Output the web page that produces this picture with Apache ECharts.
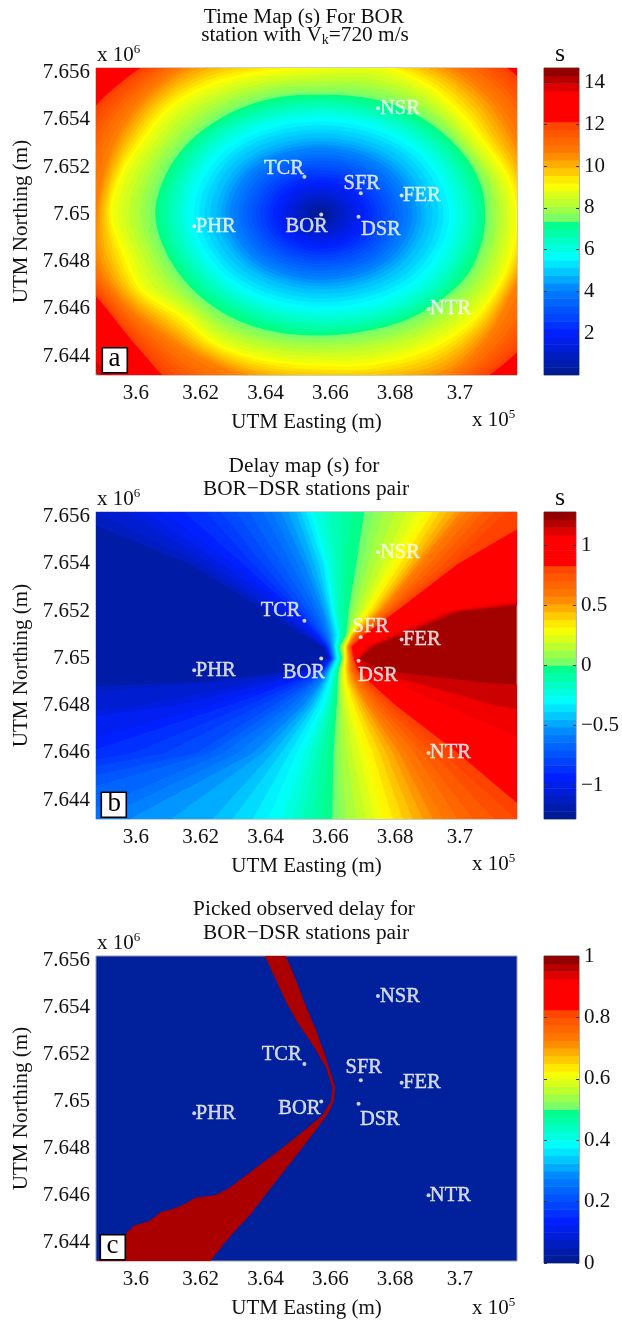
<!DOCTYPE html>
<html>
<head>
<meta charset="utf-8">
<style>html,body{margin:0;padding:0;background:#fff}#c{width:622px;height:1320px;filter:blur(0.45px)}</style>
<script src="https://cdn.jsdelivr.net/npm/echarts@6/dist/echarts.min.js"></script>
</head>
<body>
<div id="c"></div>
<script>
// ---------- axes (easting in 1e5 m, northing in 1e6 m) ----------
const eastMin = 3.5877, eastMax = 3.7176, northMin = 7.6432, northMax = 7.6562;
const eastTicks = [3.6, 3.62, 3.64, 3.66, 3.68, 3.7];
const northTicks = [7.644, 7.646, 7.648, 7.65, 7.652, 7.654, 7.656];

// ---------- stations ----------
const stationNames = ['NSR', 'TCR', 'SFR', 'FER', 'PHR', 'BOR', 'DSR', 'NTR'];
const stationEast = [3.6747, 3.652, 3.6694, 3.682, 3.618, 3.6572, 3.6687, 3.6903];
const stationNorth = [7.6545, 7.6516, 7.6509, 7.6508, 7.6495, 7.65, 7.6499, 7.646];

// ---------- colour bars ----------
const barRangeA = [0, 14.7], barTicksA = [2, 4, 6, 8, 10, 12, 14];
const barRangeB = [-1.28, 1.28], barTicksB = [-1, -0.5, 0, 0.5, 1];
const barRangeC = [0, 1], barTicksC = [0, 0.2, 0.4, 0.6, 0.8, 1];
const cmapPos = [0, 0.137, 0.277, 0.384, 0.5, 0.505, 0.56, 0.62, 0.723, 0.824, 0.827, 0.915, 1];
const cmapCol = ['#001a8c', '#0020ff', '#0080ff', '#00ffff', '#00ff80', '#70ff70', '#b8ff30', '#ffff00', '#ff8000', '#ff4000', '#ff0000', '#ff0000', '#800000'];

// ---------- panel a: travel-time contours, km from the source along equal bearings ----------
const timeCentreEast = 3.6568, timeCentreNorth = 7.65;
const timeLevels = [14.2, 13.4, 12.2, 12.0, 11.8, 11.6, 11.4, 11.2, 11.0, 10.8, 10.6, 10.4, 10.2, 10.0, 9.8, 9.6, 9.4, 9.2, 9.0, 8.8, 8.6, 8.4, 8.2, 8.0, 7.8, 7.6, 7.4,
  7.2, 7.0, 6.8, 6.6, 6.4, 6.2, 6.0, 5.8, 5.6, 5.4, 5.2, 5.0, 4.8, 4.6, 4.4, 4.2, 4.0, 3.8, 3.6, 3.4, 3.2, 3.0, 2.8, 2.6, 2.4, 2.2, 2.0, 1.8, 1.6, 1.4, 1.2, 1.0, 0.8, 0.6, 0.4, 0.2];
const timeRadii = [
  [12,12,12,12,12,12,12,12,12,12,12,12,12,12,12,9.62,12,12,12,12,12,12,12,12],
  [10,10,10,10,10,10,10,10,10,10,10,10,10,10,9.3,9.35,9.8,10,10,10,10,10,10,10],
  [8.20,8.20,8.30,8.45,8.60,8.60,8.50,8.50,8.40,8.30,8.30,8.20,8.20,8.00,7.70,7.95,8.60,8.80,8.80,8.80,8.70,8.45,8.30,8.20],
  [8.02,8.02,8.12,8.30,8.45,8.43,8.33,8.34,8.29,8.18,8.15,8.04,8.04,7.90,7.63,7.83,8.42,8.62,8.63,8.65,8.59,8.31,8.12,8.02],
  [7.83,7.83,7.94,8.14,8.30,8.25,8.15,8.18,8.18,8.06,8.00,7.88,7.88,7.79,7.55,7.71,8.23,8.43,8.45,8.50,8.48,8.17,7.93,7.83],
  [7.64,7.64,7.76,7.99,8.15,8.08,7.98,8.02,8.07,7.95,7.85,7.72,7.72,7.69,7.48,7.60,8.04,8.24,8.28,8.35,8.37,8.03,7.74,7.64],
  [7.45,7.45,7.58,7.83,8.00,7.90,7.80,7.85,7.95,7.83,7.70,7.55,7.55,7.58,7.40,7.48,7.85,8.05,8.10,8.20,8.25,7.88,7.55,7.45],
  [7.27,7.27,7.40,7.67,7.85,7.73,7.63,7.69,7.84,7.71,7.55,7.39,7.39,7.47,7.33,7.36,7.67,7.87,7.93,8.05,8.14,7.74,7.37,7.27],
  [7.08,7.08,7.21,7.51,7.70,7.55,7.45,7.52,7.72,7.59,7.40,7.23,7.23,7.36,7.25,7.24,7.48,7.68,7.75,7.90,8.03,7.59,7.18,7.08],
  [6.89,6.89,7.03,7.35,7.55,7.38,7.28,7.36,7.61,7.47,7.25,7.07,7.07,7.25,7.17,7.12,7.29,7.49,7.58,7.75,7.91,7.45,6.99,6.89],
  [6.70,6.70,6.85,7.20,7.40,7.20,7.10,7.20,7.50,7.35,7.10,6.90,6.90,7.15,7.10,7.00,7.10,7.30,7.40,7.60,7.80,7.30,6.80,6.70],
  [6.62,6.60,6.71,7.05,7.27,7.12,6.99,7.07,7.36,7.23,7.00,6.83,6.84,7.03,7.00,6.87,7.00,7.17,7.26,7.46,7.64,7.20,6.73,6.62],
  [6.53,6.51,6.57,6.90,7.14,7.03,6.88,6.95,7.22,7.12,6.89,6.76,6.78,6.91,6.90,6.75,6.90,7.05,7.12,7.31,7.48,7.09,6.66,6.55],
  [6.44,6.41,6.42,6.75,7.01,6.94,6.76,6.82,7.07,7.00,6.78,6.68,6.71,6.80,6.80,6.62,6.80,6.93,6.98,7.17,7.31,6.98,6.60,6.47],
  [6.36,6.31,6.28,6.60,6.88,6.85,6.65,6.70,6.93,6.89,6.68,6.61,6.65,6.68,6.70,6.50,6.70,6.81,6.85,7.03,7.15,6.88,6.53,6.39],
  [6.27,6.22,6.17,6.45,6.75,6.76,6.53,6.57,6.78,6.77,6.57,6.54,6.58,6.56,6.60,6.37,6.60,6.68,6.71,6.88,6.99,6.77,6.46,6.31],
  [6.19,6.13,6.05,6.30,6.61,6.68,6.42,6.45,6.64,6.65,6.46,6.47,6.52,6.44,6.50,6.25,6.50,6.56,6.57,6.74,6.83,6.66,6.39,6.24],
  [6.10,6.04,5.95,6.16,6.48,6.59,6.31,6.32,6.50,6.53,6.35,6.39,6.46,6.32,6.40,6.12,6.40,6.44,6.43,6.59,6.66,6.55,6.32,6.16],
  [6.02,5.95,5.85,6.02,6.35,6.50,6.20,6.20,6.36,6.42,6.25,6.32,6.40,6.20,6.30,6.00,6.30,6.32,6.30,6.45,6.50,6.45,6.25,6.08],
  [5.90,5.84,5.72,5.90,6.20,6.32,6.06,6.07,6.20,6.25,6.10,6.16,6.24,6.05,6.13,5.88,6.16,6.18,6.15,6.28,6.33,6.28,6.14,5.96],
  [5.79,5.72,5.60,5.78,6.06,6.14,5.92,5.94,6.05,6.09,5.95,6.00,6.07,5.90,5.97,5.77,6.03,6.03,6.01,6.12,6.16,6.12,6.02,5.85],
  [5.68,5.62,5.50,5.68,5.91,5.96,5.76,5.80,5.88,5.90,5.79,5.83,5.90,5.74,5.78,5.65,5.87,5.87,5.85,5.92,5.97,5.95,5.88,5.72],
  [5.56,5.52,5.42,5.57,5.76,5.78,5.62,5.66,5.72,5.72,5.64,5.67,5.72,5.58,5.60,5.53,5.72,5.72,5.70,5.74,5.81,5.78,5.74,5.60],
  [5.45,5.42,5.34,5.46,5.60,5.60,5.47,5.52,5.56,5.54,5.48,5.50,5.54,5.42,5.44,5.42,5.58,5.57,5.54,5.58,5.65,5.62,5.60,5.48],
  [5.33,5.32,5.26,5.35,5.45,5.44,5.33,5.38,5.40,5.37,5.33,5.34,5.38,5.28,5.28,5.30,5.44,5.43,5.40,5.42,5.49,5.46,5.46,5.36],
  [5.21,5.22,5.19,5.23,5.30,5.27,5.19,5.25,5.25,5.22,5.19,5.19,5.22,5.15,5.15,5.19,5.29,5.29,5.26,5.27,5.34,5.33,5.34,5.25],
  [5.10,5.12,5.11,5.13,5.18,5.14,5.07,5.13,5.12,5.08,5.06,5.05,5.08,5.02,5.02,5.08,5.15,5.16,5.13,5.13,5.20,5.20,5.22,5.14],
  [5.01,5.02,4.97,4.99,4.95,4.93,5.02,5.11],
  [4.90,4.90,4.85,4.88,4.83,4.80,4.90,5.00],
  [4.79,4.79,4.74,4.77,4.70,4.67,4.77,4.90],
  [4.67,4.67,4.62,4.65,4.57,4.54,4.64,4.79],
  [4.54,4.54,4.50,4.52,4.44,4.41,4.50,4.65],
  [4.42,4.42,4.38,4.40,4.32,4.29,4.37,4.52],
  [4.28,4.28,4.24,4.26,4.18,4.15,4.21,4.36],
  [4.13,4.13,4.09,4.11,4.03,4.01,4.05,4.19],
  [3.99,3.99,3.95,3.97,3.89,3.87,3.90,4.03],
  [3.82,3.82,3.78,3.80,3.72,3.70,3.72,3.84],
  [3.65,3.65,3.61,3.63,3.56,3.53,3.55,3.66],
  [3.47,3.47,3.43,3.45,3.38,3.35,3.37,3.47],
  [3.28,3.28,3.24,3.26,3.19,3.16,3.18,3.27],
  [3.14,3.14,3.10,3.12,3.05,3.03,3.04,3.13],
  [3.00,3.00,2.96,2.98,2.92,2.90,2.91,2.99],
  [2.86,2.86,2.83,2.85,2.78,2.76,2.77,2.85],
  [2.72,2.72,2.69,2.71,2.65,2.63,2.64,2.71],
  [2.58,2.58,2.55,2.57,2.51,2.49,2.50,2.57],
  [2.44,2.44,2.41,2.43,2.38,2.36,2.37,2.44],
  [2.30,2.30,2.28,2.29,2.24,2.22,2.23,2.30],
  [2.17,2.17,2.15,2.16,2.11,2.09,2.10,2.17],
  [2.03,2.03,2.01,2.02,1.98,1.96,1.97,2.03],
  [1.90,1.90,1.88,1.89,1.85,1.83,1.84,1.90],
  [1.76,1.76,1.74,1.75,1.71,1.70,1.71,1.76],
  [1.63,1.63,1.61,1.62,1.58,1.57,1.58,1.63],
  [1.49,1.49,1.47,1.48,1.45,1.44,1.45,1.49],
  [1.36,1.36,1.34,1.35,1.32,1.31,1.32,1.36],
  [1.22,1.22,1.20,1.21,1.18,1.18,1.19,1.22],
  [1.09,1.09,1.07,1.08,1.05,1.05,1.06,1.09],
  [0.95,0.95,0.93,0.94,0.92,0.92,0.93,0.95],
  [0.82,0.82,0.80,0.81,0.79,0.79,0.80,0.82],
  [0.68,0.68,0.66,0.67,0.66,0.66,0.66,0.68],
  [0.55,0.55,0.53,0.54,0.53,0.53,0.53,0.55],
  [0.41,0.41,0.40,0.40,0.40,0.40,0.40,0.41],
  [0.28,0.28,0.27,0.27,0.27,0.27,0.27,0.28],
  [0.14,0.14,0.14,0.14,0.14,0.14,0.14,0.14]
];

// ---------- panel b: easting of each delay contour at fixed northings ----------
const delayNorthings = [7.6562, 7.654, 7.652, 7.651, 7.6505, 7.65, 7.6495, 7.649, 7.648, 7.646, 7.6432];
const delayLevels = [1.18, 1.12, 1.05, 0.84, 0.8, 0.75, 0.7, 0.65, 0.6, 0.55, 0.5, 0.45, 0.4, 0.35, 0.3, 0.25, 0.2, 0.15, 0.1, 0.05, 0, -0.05, -0.1, -0.15, -0.2, -0.25, -0.3, -0.35, -0.4, -0.45, -0.5, -0.55, -0.6, -0.65, -0.7, -0.75, -0.8, -0.85, -0.9, -0.95, -1.0, -1.05, -1.1, -1.15];
const delayEastings = [
  [3.9479,3.8450,3.6999,3.6824,3.6731,3.6690,3.6752,3.7055,3.8141,3.9993,4.2051],
  [3.8964,3.8141,3.6978,3.6803,3.6721,3.6685,3.6700,3.6855,3.7112,3.7935,4.0000],
  [3.8450,3.7832,3.6957,3.6783,3.6710,3.6680,3.6690,3.6793,3.6957,3.7287,3.8964],
  [3.7266,3.6993,3.6803,3.6705,3.6666,3.6672,3.6685,3.6721,3.6803,3.6993,3.7235],
  [3.7143,3.6973,3.6793,3.6695,3.6663,3.6669,3.6680,3.6710,3.6783,3.6947,3.7173],
  [3.7107,3.6950,3.6785,3.6690,3.6661,3.6667,3.6675,3.6702,3.6767,3.6916,3.7106],
  [3.7071,3.6927,3.6777,3.6685,3.6659,3.6665,3.6671,3.6695,3.6752,3.6885,3.7040],
  [3.7045,3.6906,3.6770,3.6681,3.6657,3.6663,3.6667,3.6687,3.6739,3.6860,3.6993],
  [3.7019,3.6885,3.6762,3.6678,3.6656,3.6661,3.6664,3.6680,3.6726,3.6834,3.6947],
  [3.7001,3.6872,3.6754,3.6674,3.6654,3.6658,3.6660,3.6673,3.6715,3.6813,3.6916],
  [3.6983,3.6860,3.6747,3.6671,3.6652,3.6656,3.6656,3.6667,3.6705,3.6793,3.6885],
  [3.6960,3.6847,3.6739,3.6668,3.6650,3.6653,3.6652,3.6661,3.6695,3.6772,3.6854],
  [3.6937,3.6834,3.6731,3.6666,3.6649,3.6651,3.6649,3.6655,3.6685,3.6752,3.6824],
  [3.6916,3.6816,3.6722,3.6663,3.6647,3.6648,3.6646,3.6650,3.6674,3.6731,3.6793],
  [3.6896,3.6798,3.6713,3.6661,3.6645,3.6646,3.6643,3.6645,3.6664,3.6710,3.6762],
  [3.6865,3.6780,3.6704,3.6659,3.6643,3.6644,3.6639,3.6640,3.6654,3.6689,3.6736],
  [3.6834,3.6762,3.6695,3.6657,3.6641,3.6643,3.6636,3.6636,3.6644,3.6669,3.6710],
  [3.6798,3.6739,3.6684,3.6655,3.6638,3.6641,3.6633,3.6633,3.6637,3.6651,3.6680],
  [3.6762,3.6716,3.6674,3.6654,3.6635,3.6639,3.6631,3.6630,3.6631,3.6633,3.6649],
  [3.6733,3.6698,3.6665,3.6651,3.6632,3.6637,3.6628,3.6626,3.6625,3.6621,3.6627],
  [3.6705,3.6680,3.6656,3.6649,3.6629,3.6636,3.6626,3.6623,3.6620,3.6610,3.6606],
  [3.6669,3.6649,3.6644,3.6642,3.6626,3.6633,3.6622,3.6618,3.6610,3.6592,3.6577],
  [3.6633,3.6633,3.6633,3.6637,3.6624,3.6631,3.6619,3.6614,3.6603,3.6574,3.6546],
  [3.6597,3.6618,3.6623,3.6633,3.6622,3.6629,3.6616,3.6610,3.6597,3.6556,3.6515],
  [3.6574,3.6605,3.6618,3.6630,3.6620,3.6627,3.6613,3.6606,3.6589,3.6538,3.6484],
  [3.6551,3.6592,3.6613,3.6628,3.6618,3.6625,3.6610,3.6602,3.6582,3.6520,3.6453],
  [3.6538,3.6584,3.6607,3.6623,3.6616,3.6622,3.6606,3.6597,3.6571,3.6497,3.6407],
  [3.6525,3.6577,3.6602,3.6618,3.6614,3.6620,3.6602,3.6592,3.6561,3.6474,3.6361],
  [3.6509,3.6564,3.6597,3.6613,3.6612,3.6617,3.6600,3.6587,3.6551,3.6448,3.6299],
  [3.6494,3.6551,3.6592,3.6608,3.6610,3.6615,3.6597,3.6582,3.6541,3.6422,3.6237],
  [3.6471,3.6535,3.6584,3.6602,3.6607,3.6613,3.6594,3.6577,3.6528,3.6391,3.6108],
  [3.6448,3.6520,3.6577,3.6597,3.6604,3.6611,3.6592,3.6572,3.6515,3.6361,3.5980],
  [3.6420,3.6499,3.6566,3.6592,3.6602,3.6609,3.6589,3.6564,3.6494,3.6314,3.5887],
  [3.6392,3.6479,3.6556,3.6587,3.6600,3.6608,3.6587,3.6556,3.6474,3.6268,3.5795],
  [3.6350,3.6450,3.6543,3.6582,3.6598,3.6607,3.6584,3.6546,3.6448,3.6227,3.5527],
  [3.6309,3.6422,3.6530,3.6577,3.6597,3.6606,3.6582,3.6536,3.6422,3.6186,3.5260],
  [3.6263,3.6391,3.6517,3.6571,3.6594,3.6604,3.6579,3.6520,3.6381,3.6088,3.5054],
  [3.6217,3.6361,3.6505,3.6566,3.6592,3.6603,3.6577,3.6505,3.6340,3.5990,3.4848],
  [3.6150,3.6330,3.6492,3.6561,3.6589,3.6601,3.6572,3.6484,3.6283,3.5846,3.3819],
  [3.6083,3.6299,3.6479,3.6556,3.6587,3.6600,3.6568,3.6464,3.6227,3.5702,3.2790],
  [3.6026,3.6265,3.6458,3.6546,3.6584,3.6598,3.6557,3.6417,3.6119,3.5017,3.1761],
  [3.5970,3.6232,3.6438,3.6536,3.6582,3.6597,3.6546,3.6371,3.6011,3.4333,3.0732],
  [3.5872,3.6198,3.6420,3.6525,3.6579,3.6594,3.6530,3.6278,3.5172,3.3047,3.0217],
  [3.5774,3.6165,3.6402,3.6515,3.6577,3.6592,3.6515,3.6186,3.4333,3.1761,2.9703]
];

// ---------- panel c: outline of the picked delay region ----------
const pickedEast = [3.6398,3.6428,3.6465,3.6502,3.6551,3.6588,3.6606,3.6602,3.6575,3.6514,3.6441,3.6355,3.6287,3.6245,3.6183,3.6147,3.6110,3.6079,3.6042,3.5993,3.5951,3.5914,3.5878,3.6230,3.6294,3.6355,3.6416,3.6490,3.6551,3.6594,3.6610,3.6615,3.6588,3.6557,3.6526,3.6496,3.6463];
const pickedNorth = [7.6562,7.6553,7.6542,7.6533,7.6523,7.6514,7.6506,7.65,7.6494,7.6487,7.6479,7.6470,7.6463,7.6460,7.6459,7.6456,7.6454,7.6453,7.6449,7.6447,7.6441,7.6435,7.6432,7.6432,7.6443,7.6452,7.6463,7.6476,7.6487,7.6495,7.65,7.6506,7.6518,7.6530,7.6540,7.6551,7.6562];

// ---------- layout and text ----------
const panelTops = [68, 512, 956];
const panelHeight = 307, mapLeft = 96, mapWidth = 421, barLeft = 544, barWidth = 35;
const serif = 'Liberation Serif';
const labelOffsets = [
  [[22,0],[-20.4,-7.7],[1,-10],[20.2,0],[21.6,0],[-14.7,12.4],[22.3,13],[21.8,0]],
  [[22,0],[-23.8,-10.4],[10,-10.6],[20.2,0],[21.6,0],[-17.4,14],[19.3,15],[21.8,0]],
  [[22,0.7],[-22.7,-9.7],[3,-12.3],[20.2,0.4],[21.6,0],[-21.8,6.7],[21.3,16],[21.8,0]]
];
const titleLines = [
  ['Time Map (s) For BOR', 304, 17], ['station with V{sub|k}=720 m/s', 305, 35],
  ['Delay map (s) for', 304, 466], ['BOR\u2212DSR stations pair', 306, 489],
  ['Picked observed delay for', 304, 909], ['BOR\u2212DSR stations pair', 306, 933]
];
const panelLetters = ['a', 'b', 'c'];
const letterBoxes = [[101.5, 347], [100.5, 791.5], [99.5, 1234]];

function hex(c){return [1,3,5].map(i=>parseInt(c.substr(i,2),16));}
function cmap(n){
  n=Math.max(0,Math.min(1,n));
  for(let i=1;i<cmapPos.length;i++){
    if(n<=cmapPos[i]){
      const t=(n-cmapPos[i-1])/(cmapPos[i]-cmapPos[i-1]),a=hex(cmapCol[i-1]),b=hex(cmapCol[i]);
      return 'rgb('+a.map((v,k)=>Math.round(v+(b[k]-v)*t)).join(',')+')';
    }
  }
  return cmapCol[cmapCol.length-1];
}
const colorIn=(v,r)=>cmap((v-r[0])/(r[1]-r[0]));

const grids=[],xAxes=[],yAxes=[],series=[],titles=[],graphics=[];
const fmt=v=>String(v).replace('-','\u2212');

titleLines.forEach(t=>titles.push({text:t[0],left:t[1],top:t[2],padding:0,textAlign:'center',textVerticalAlign:'middle',
  textStyle:{fontFamily:serif,fontSize:21.3,fontWeight:'normal',color:'#111',
    rich:{sub:{fontFamily:serif,fontSize:14,color:'#111',padding:[11,0,0,0]}}}}));

function addMap(i,bg){
  grids.push({left:mapLeft,top:panelTops[i],width:mapWidth,height:panelHeight,show:true,backgroundColor:bg,borderColor:'#9a9a9a',borderWidth:1});
  const g=grids.length-1;
  xAxes.push({gridIndex:g,type:'value',min:eastMin,max:eastMax,splitLine:{show:false},axisLine:{show:false},axisTick:{show:false},
    axisLabel:{customValues:eastTicks,margin:8,fontFamily:serif,fontSize:21,color:'#111'},
    name:'UTM Easting (m)',nameLocation:'middle',nameGap:37,nameTextStyle:{fontFamily:serif,fontSize:21,color:'#111'}});
  yAxes.push({gridIndex:g,type:'value',min:northMin,max:northMax,splitLine:{show:false},axisLine:{show:false},axisTick:{show:false},
    axisLabel:{customValues:northTicks,margin:6,padding:[3,0,0,0],fontFamily:serif,fontSize:21,color:'#111'},
    name:'UTM Northing (m)',nameLocation:'middle',nameGap:59,nameTextStyle:{fontFamily:serif,fontSize:21,color:'#111'}});
  return {x:xAxes.length-1,y:yAxes.length-1};
}
function addStations(ax,i){
  series.push({type:'scatter',xAxisIndex:ax.x,yAxisIndex:ax.y,symbolSize:4,silent:true,z:10,
    itemStyle:{color:'#fff'},
    data:stationNames.map((n,k)=>({value:[stationEast[k],stationNorth[k]],name:n,
      label:{show:true,position:'inside',offset:labelOffsets[i][k],formatter:n,color:'#fff',fontFamily:serif,fontSize:20.5,textBorderColor:'#fff',textBorderWidth:0.4}}))});
}
function addBar(i,range,ticks){
  grids.push({left:barLeft,top:panelTops[i],width:barWidth,height:panelHeight,show:true,borderColor:'#555',borderWidth:1});
  const g=grids.length-1;
  xAxes.push({gridIndex:g,type:'value',min:0,max:1,show:false});
  const xi=xAxes.length-1;
  const base={gridIndex:g,type:'value',min:range[0],max:range[1],z:5,splitLine:{show:false},axisLine:{show:false,onZero:false}};
  yAxes.push(Object.assign({},base,{position:'right',axisTick:{inside:true,length:3,lineStyle:{color:'#333'},customValues:ticks},
    axisLabel:{customValues:ticks,margin:5,padding:[3,0,0,0],fontFamily:serif,fontSize:21,color:'#111',formatter:fmt}}));
  const yi=yAxes.length-1;
  yAxes.push(Object.assign({},base,{position:'left',axisTick:{inside:true,length:3,lineStyle:{color:'#333'},customValues:ticks},axisLabel:{show:false}}));
  const n=40,steps=[];for(let k=0;k<n;k++)steps.push(k);
  series.push({type:'custom',xAxisIndex:xi,yAxisIndex:yi,silent:true,clip:true,z:1,data:steps,
    renderItem(p,api){
      const k=p.dataIndex,lo=range[0]+(range[1]-range[0])*k/n,hi=range[0]+(range[1]-range[0])*(k+1)/n;
      const a=api.coord([0,lo]),b=api.coord([1,hi]);
      return {type:'rect',shape:{x:a[0],y:b[1],width:b[0]-a[0],height:a[1]-b[1]+0.5},style:{fill:colorIn((lo+hi)/2,range)}};
    }});
}

// panel a
{
  const ax=addMap(0,colorIn(14.5,barRangeA));
  series.push({type:'custom',xAxisIndex:ax.x,yAxisIndex:ax.y,silent:true,clip:true,data:timeLevels,
    renderItem(p,api){
      const rs=timeRadii[p.dataIndex],L=timeLevels[p.dataIndex],N=timeLevels[p.dataIndex+1];
      const pts=rs.map((r,k)=>{const th=2*Math.PI*k/rs.length;
        return api.coord([timeCentreEast+r*Math.cos(th)*0.01,timeCentreNorth+r*Math.sin(th)*0.001]);});
      const mid=N===undefined?L/2:(L+N)/2;
      return {type:'polygon',shape:{points:pts,smooth:0.35,smoothConstraint:false},style:{fill:colorIn(mid,barRangeA)}};
    }});
  addStations(ax,0);
  addBar(0,barRangeA,barTicksA);
}
// panel b
{
  const ax=addMap(1,colorIn(1.22,barRangeB));
  series.push({type:'custom',xAxisIndex:ax.x,yAxisIndex:ax.y,silent:true,clip:true,data:delayLevels,
    renderItem(p,api){
      const row=delayEastings[p.dataIndex],L=delayLevels[p.dataIndex],N=delayLevels[p.dataIndex+1];
      const pts=row.map((x,k)=>api.coord([x,delayNorthings[k]]));
      pts.push(api.coord([2,northMin]));pts.push(api.coord([2,northMax]));
      const mid=N===undefined?-1.2:(L+N)/2;
      return {type:'polygon',shape:{points:pts},style:{fill:colorIn(mid,barRangeB)}};
    }});
  addStations(ax,1);
  addBar(1,barRangeB,barTicksB);
}
// panel c
{
  const ax=addMap(2,'#00209c');
  series.push({type:'custom',xAxisIndex:ax.x,yAxisIndex:ax.y,silent:true,clip:true,data:[0],
    renderItem(p,api){
      return {type:'polygon',shape:{points:pickedEast.map((x,k)=>api.coord([x,pickedNorth[k]]))},style:{fill:'#ab0000'}};
    }});
  addStations(ax,2);
  addBar(2,barRangeC,barTicksC);
}

// exponents, units, panel letters
const expStyle={font:'21px "Liberation Serif"',fill:'#111',verticalAlign:'middle',
  rich:{sup:{fontFamily:serif,fontSize:13,fill:'#111',color:'#111',padding:[0,0,12,0]}}};
panelTops.forEach((top,i)=>{
  graphics.push({type:'text',left:97,top:top-25,z:20,style:Object.assign({},expStyle,{text:'x 10{sup|6}'})});
  graphics.push({type:'text',left:472,top:top+340,z:20,style:Object.assign({},expStyle,{text:'x 10{sup|5}'})});
  if(i<2)graphics.push({type:'text',left:555,top:top-27,z:20,style:{text:'s',font:'26px "Liberation Serif"',fill:'#111'}});
  const b=letterBoxes[i];
  graphics.push({type:'rect',left:b[0],top:b[1],z:20,shape:{width:25,height:25},style:{fill:'#fff',stroke:'#000',lineWidth:1.6}});
  graphics.push({type:'text',left:b[0]+7,top:b[1]-1.5,z:21,style:{text:panelLetters[i],font:'27px "Liberation Serif"',fill:'#000'}});
});

const chart=echarts.init(document.getElementById('c'),null,{renderer:'canvas',width:622,height:1320});
chart.setOption({animation:false,backgroundColor:'#fff',title:titles,grid:grids,xAxis:xAxes,yAxis:yAxes,series:series,graphic:graphics});
</script>
</body>
</html>
